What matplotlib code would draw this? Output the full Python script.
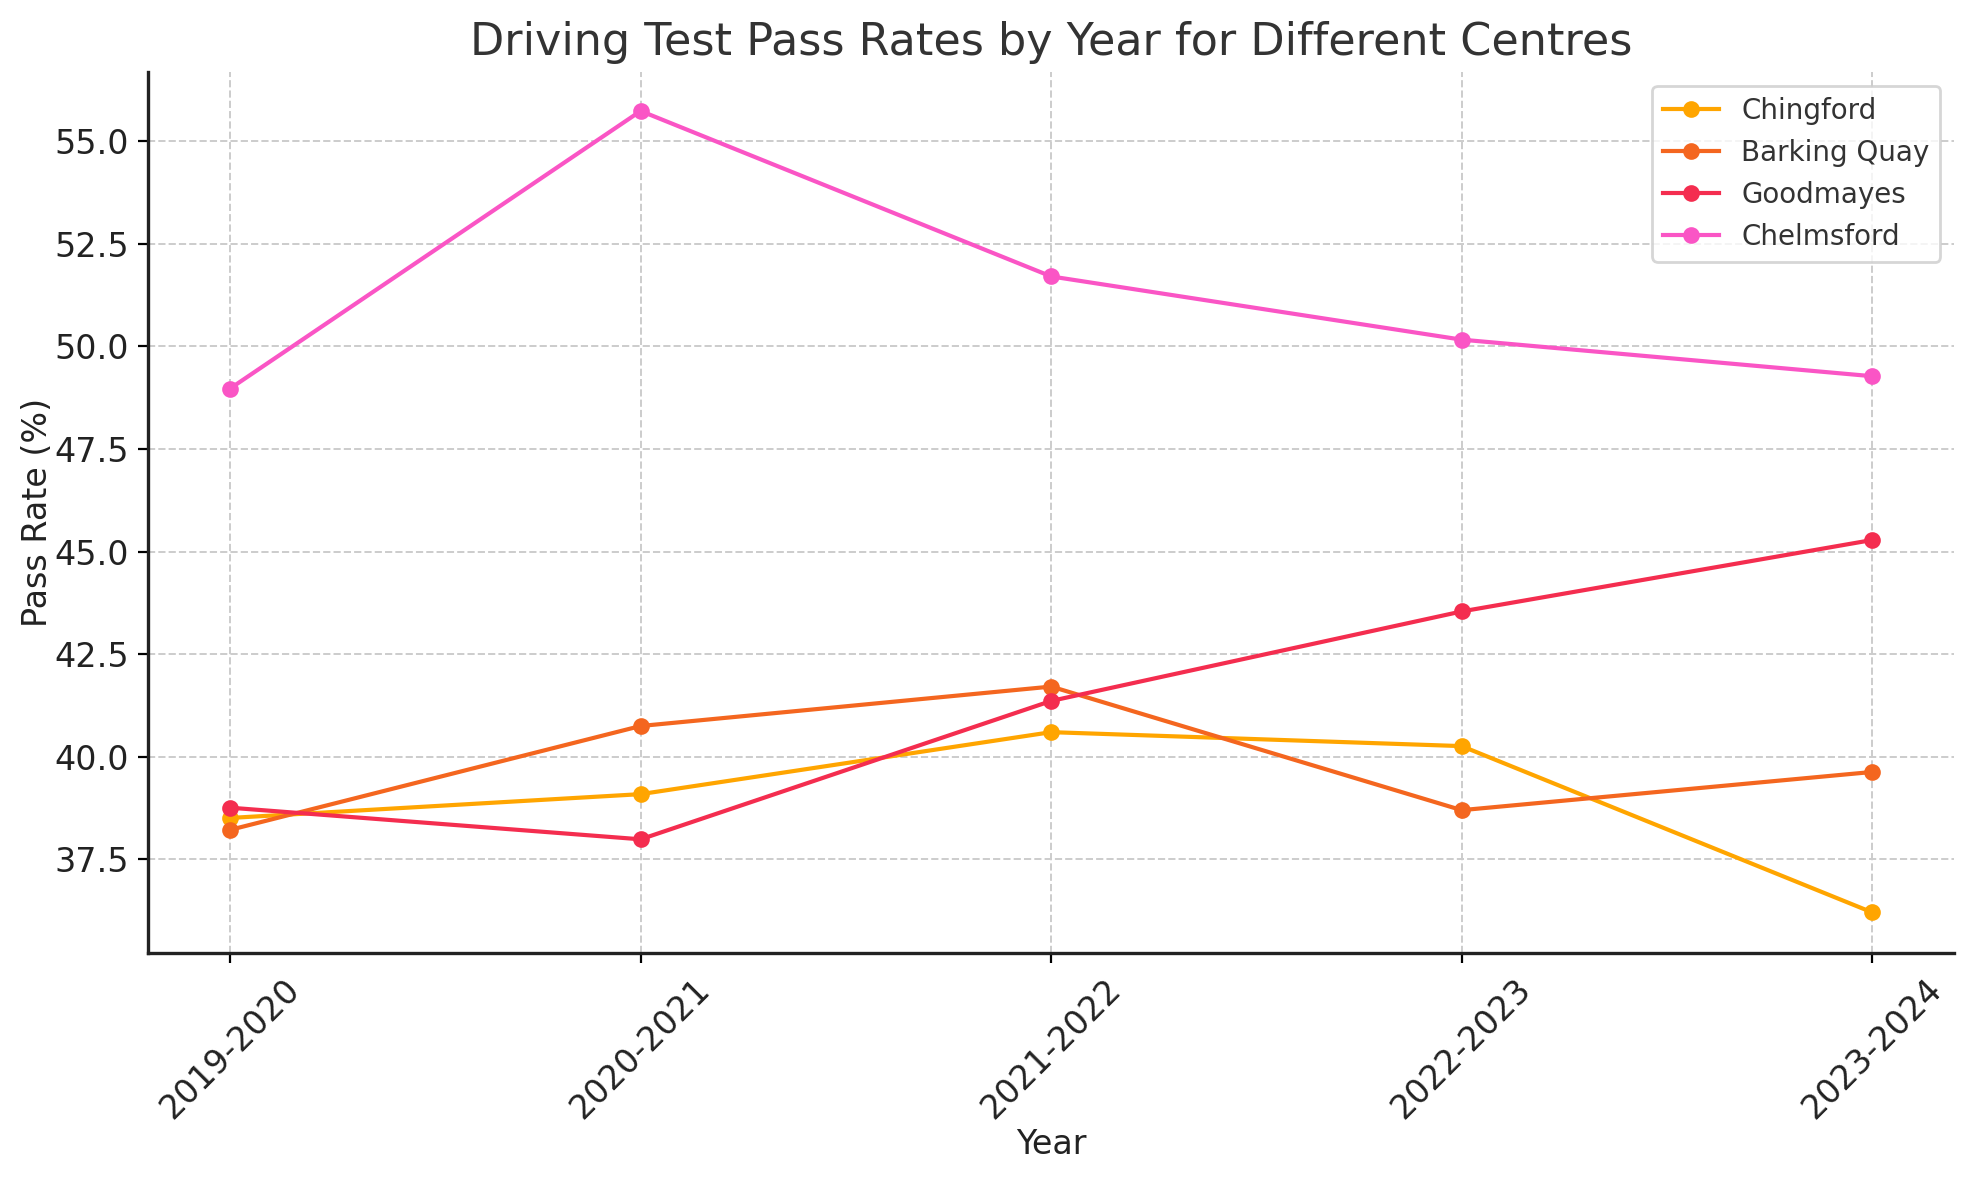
import matplotlib.pyplot as plt

years = ["2019-2020", "2020-2021", "2021-2022", "2022-2023", "2023-2024"]
chingford = [38.51, 39.09, 40.60, 40.26, 36.21]
barking_quay = [38.22, 40.75, 41.71, 38.70, 39.63]
goodmayes = [38.76, 37.99, 41.36, 43.54, 45.28]
chelmsford = [48.97, 55.73, 51.70, 50.16, 49.27]

centres = ["Chingford", "Barking Quay", "Goodmayes", "Chelmsford"]
colours = ["#FFA500", "#F4661F", "#F42D4F", "#FA55C5"]

fig = plt.figure(figsize=(9.87, 5.9), dpi=200)
ax = fig.add_subplot(111)
x = range(len(years))
for name, vals, c in zip(centres, [chingford, barking_quay, goodmayes, chelmsford], colours):
    ax.plot(x, vals, marker="o", markersize=5, linewidth=1.5, color=c, label=name)

ax.set_xticks(list(x))
ax.set_xticklabels(years, rotation=45, fontsize=12, color="#222222")
ax.tick_params(axis="y", labelsize=12, labelcolor="#222222")
ax.set_ylim(35.21, 56.68)
ax.set_xlim(-0.2, 4.2)
ax.grid(True, linestyle="--", color="#cccccc", linewidth=0.7)
for s in ["top", "right"]:
    ax.spines[s].set_visible(False)
for s in ["left", "bottom"]:
    ax.spines[s].set_color("#222222")
    ax.spines[s].set_linewidth(1.2)

ax.set_title("Driving Test Pass Rates by Year for Different Centres", fontsize=16, color="#333333")
ax.set_xlabel("Year", fontsize=12, color="#222222", labelpad=1)
ax.set_ylabel("Pass Rate (%)", fontsize=12, color="#222222", labelpad=0)
leg = ax.legend(loc="upper right", fontsize=10, labelcolor="#333333")

fig.subplots_adjust(left=0.075, right=0.99, top=0.939, bottom=0.192)
fig.savefig("out.png", dpi=200)
